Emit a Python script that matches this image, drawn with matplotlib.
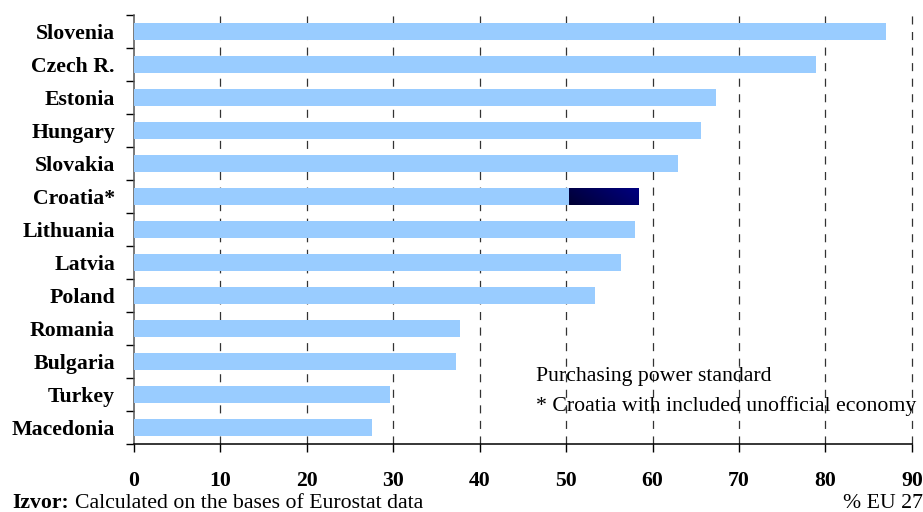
import matplotlib
matplotlib.use("Agg")
import matplotlib.pyplot as plt
import numpy as np
from matplotlib.colors import LinearSegmentedColormap

plt.rcParams['font.family'] = ['Liberation Serif', 'DejaVu Serif']
plt.rcParams['lines.scale_dashes'] = False

countries = ["Slovenia", "Czech R.", "Estonia", "Hungary", "Slovakia", "Croatia*",
             "Lithuania", "Latvia", "Poland", "Romania", "Bulgaria", "Turkey", "Macedonia"]
values = [87.0, 78.9, 67.3, 65.6, 63.0, 50.3, 58.0, 56.3, 53.3, 37.7, 37.3, 29.6, 27.5]
unofficial_extra = [0, 0, 0, 0, 0, 8.0, 0, 0, 0, 0, 0, 0, 0]
xticks = [0, 10, 20, 30, 40, 50, 60, 70, 80, 90]

light = "#99CCFF"
dark = "#000080"
FS = 15.7

fig = plt.figure(figsize=(9.23, 5.12), dpi=100)
ax = fig.add_axes([0.1449, 0.1328, 0.988 - 0.1449, 0.9707 - 0.1328])

y = np.arange(len(countries))
ax.barh(y, values, height=0.5, color=light, zorder=3)
ax.barh(y, unofficial_extra, left=values, height=0.5, color=dark, zorder=3)

# subtle gradient fill for the unofficial-economy segment
cmap = LinearSegmentedColormap.from_list("navy", ["#000034", "#000080"])
gx = np.linspace(0, 1, 64)
gy = np.linspace(0, 1, 16)
grad = 0.75 * gx[None, :] + 0.25 * (1 - gy)[:, None]
for i, e in enumerate(unofficial_extra):
    if e > 0:
        ax.imshow(grad, cmap=cmap, vmin=0, vmax=1, aspect="auto", zorder=4,
                  extent=(values[i], values[i] + e, i + 0.25, i - 0.25), interpolation="bilinear")

ax.set_ylim(len(countries) - 0.5, -0.5)
ax.set_xlim(0, 90)

for xv in xticks[1:]:
    ax.axvline(xv, color="#333333", lw=0.9, dashes=(5.8, 5.4), zorder=1, clip_on=False)

ax.set_yticks(y)
ax.set_yticklabels(countries, fontsize=FS, fontweight="bold")
ax.set_yticks(np.arange(-0.5, len(countries), 1.0), minor=True)
ax.tick_params(axis="y", which="major", length=0, pad=13.5)
ax.tick_params(axis="y", which="minor", length=6, width=1, direction="out")

ax.set_xticks(xticks)
ax.set_xticklabels([str(v) for v in xticks], fontsize=FS, fontweight="bold")
ax.tick_params(axis="x", length=5.5, width=1, direction="out", pad=14)

for s in ["top", "right"]:
    ax.spines[s].set_visible(False)
ax.spines["left"].set_linewidth(1.1)
ax.spines["bottom"].set_linewidth(1.1)
ax.spines["left"].set_color("#555555")

ax.text(46.5, 10.45, "Purchasing power standard", fontsize=FS, va="center", ha="left", zorder=5)
ax.text(46.5, 11.35, "* Croatia with included unofficial economy", fontsize=FS, va="center", ha="left", zorder=5)

fig.text(12 / 923, 1 - 503 / 512, "Izvor:", fontsize=FS, fontweight="bold", va="center", ha="left")
fig.text(75 / 923, 1 - 503 / 512, "Calculated on the bases of Eurostat data", fontsize=FS, va="center", ha="left")
fig.text(923 / 923, 1 - 503 / 512, "% EU 27", fontsize=FS, va="center", ha="right")

fig.savefig("out.png", dpi=100)
